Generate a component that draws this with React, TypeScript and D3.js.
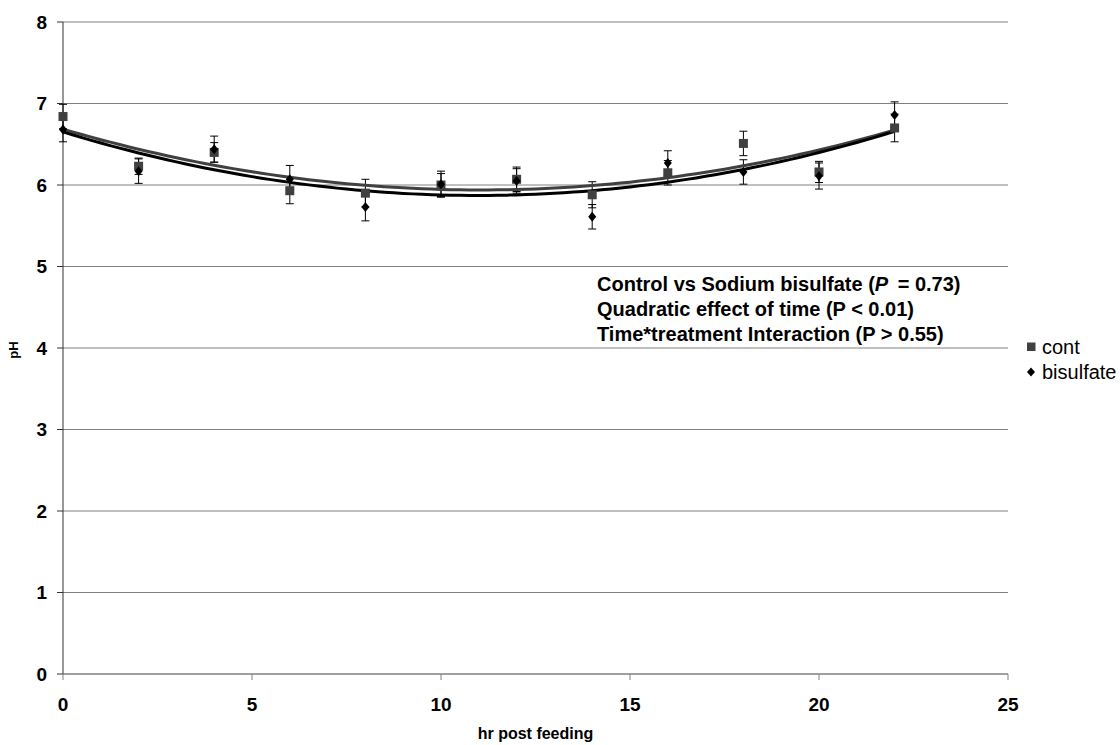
import React from "react";
import * as d3 from "d3";

const hours = [0, 2, 4, 6, 8, 10, 12, 14, 16, 18, 20, 22];
const contValues = [6.84, 6.23, 6.40, 5.93, 5.90, 6.00, 6.07, 5.88, 6.15, 6.51, 6.16, 6.70];
const contErr = [0.15, 0.10, 0.12, 0.16, 0.17, 0.14, 0.15, 0.16, 0.15, 0.15, 0.13, 0.17];
const bisValues = [6.68, 6.17, 6.44, 6.07, 5.73, 6.01, 6.05, 5.61, 6.27, 6.16, 6.11, 6.86];
const bisErr = [0.15, 0.15, 0.16, 0.17, 0.17, 0.16, 0.15, 0.15, 0.15, 0.15, 0.16, 0.16];
const xTicks = [0, 5, 10, 15, 20, 25];
const yTicks = [0, 1, 2, 3, 4, 5, 6, 7, 8];
const annotationLines = [
  "Quadratic effect of time (P < 0.01)",
  "Time*treatment Interaction (P > 0.55)",
];
const seriesNames = ["cont", "bisulfate"];

function quadFit(xs: number[], ys: number[]) {
  const n = xs.length;
  let s1 = 0, s2 = 0, s3 = 0, s4 = 0, t0 = 0, t1 = 0, t2 = 0;
  for (let i = 0; i < n; i++) {
    const x = xs[i], y = ys[i];
    s1 += x; s2 += x * x; s3 += x ** 3; s4 += x ** 4;
    t0 += y; t1 += x * y; t2 += x * x * y;
  }
  const M = [
    [n, s1, s2, t0],
    [s1, s2, s3, t1],
    [s2, s3, s4, t2],
  ];
  for (let i = 0; i < 3; i++) {
    for (let k = i + 1; k < 3; k++) {
      const f = M[k][i] / M[i][i];
      for (let j = i; j < 4; j++) M[k][j] -= f * M[i][j];
    }
  }
  const c = M[2][3] / M[2][2];
  const b = (M[1][3] - M[1][2] * c) / M[1][1];
  const a = (M[0][3] - M[0][1] * b - M[0][2] * c) / M[0][0];
  return (x: number) => a + b * x + c * x * x;
}

export default function App() {
  const W = 1120, H = 745;
  const x = d3.scaleLinear().domain([0, 25]).range([63, 1008]);
  const y = d3.scaleLinear().domain([0, 8]).range([674, 22]);

  const fitC = quadFit(hours, contValues);
  const fitB = quadFit(hours, bisValues);
  const samples = d3.range(0, 22.001, 0.25);
  const curveC = d3.line<number>().x((d) => x(d)).y((d) => y(fitC(d)))(samples) || "";
  const curveB = d3.line<number>().x((d) => x(d)).y((d) => y(fitB(d)))(samples) || "";

  const font = "Arial, 'Liberation Sans', sans-serif";

  const errBars = (vals: number[], errs: number[], key: string) =>
    hours.map((h, i) => {
      const cx = x(h);
      const top = y(vals[i] + errs[i]);
      const bot = y(vals[i] - errs[i]);
      return (
        <g key={key + i} stroke="#000" strokeWidth={1}>
          <line x1={cx} x2={cx} y1={top} y2={bot} />
          <line x1={cx - 4} x2={cx + 4} y1={top} y2={top} />
          <line x1={cx - 4} x2={cx + 4} y1={bot} y2={bot} />
        </g>
      );
    });

  return (
    <svg width={W} height={H} style={{ position: "absolute", left: 0, top: 0, background: "#fff" }}>
      <rect x={0} y={0} width={W} height={H} fill="#fff" />
      {yTicks.map((t) => (
        <line key={"g" + t} x1={x(0)} x2={x(25)} y1={y(t)} y2={y(t)} stroke="#808080" strokeWidth={1} />
      ))}
      <line x1={x(0)} x2={x(0)} y1={y(8)} y2={y(0)} stroke="#333" strokeWidth={1} />
      {yTicks.map((t) => (
        <g key={"yt" + t}>
          <line x1={x(0) - 6} x2={x(0)} y1={y(t)} y2={y(t)} stroke="#333" />
          <text x={47} y={y(t)} dy="0.35em" textAnchor="end" fontFamily={font} fontWeight="bold" fontSize={19} fill="#000">
            {t}
          </text>
        </g>
      ))}
      <line x1={x(0)} x2={x(25)} y1={y(0)} y2={y(0)} stroke="#808080" />
      {xTicks.map((t) => (
        <g key={"xt" + t}>
          <line x1={x(t)} x2={x(t)} y1={y(0)} y2={y(0) + 6} stroke="#808080" />
          <text x={x(t)} y={710.5} textAnchor="middle" fontFamily={font} fontWeight="bold" fontSize={19} fill="#000">
            {t}
          </text>
        </g>
      ))}
      <text x={535.5} y={739} textAnchor="middle" fontFamily={font} fontWeight="bold" fontSize={16} fill="#000">
        hr post feeding
      </text>
      <text transform={`translate(17.5,350) rotate(-90)`} textAnchor="middle" fontFamily={font} fontWeight="bold" fontSize={13} fill="#000">
        pH
      </text>

      {errBars(contValues, contErr, "ec")}
      {errBars(bisValues, bisErr, "eb")}

      <path d={curveC} fill="none" stroke="#404040" strokeWidth={3} />
      <path d={curveB} fill="none" stroke="#000" strokeWidth={3} />

      {hours.map((h, i) => (
        <rect key={"c" + i} x={x(h) - 4.5} y={y(contValues[i]) - 4.5} width={9} height={9} fill="#404040" />
      ))}
      {hours.map((h, i) => {
        const cx = x(h), cy = y(bisValues[i]);
        return <path key={"b" + i} d={`M${cx},${cy - 5}L${cx + 4},${cy}L${cx},${cy + 5}L${cx - 4},${cy}Z`} fill="#000" />;
      })}

      <text x={597} y={291} fontFamily={font} fontWeight="bold" fontSize={20} fill="#000">
        Control vs Sodium bisulfate (<tspan fontStyle="italic">P</tspan>
        <tspan dx={4}> = 0.73)</tspan>
      </text>
      {annotationLines.map((s, i) => (
        <text key={"a" + i} x={597} y={316 + i * 25} fontFamily={font} fontWeight="bold" fontSize={20} fill="#000">
          {s}
        </text>
      ))}

      <rect x={1027} y={342.5} width={8.5} height={8.5} fill="#404040" />
      <text x={1042} y={354} fontFamily={font} fontSize={20} fill="#000">{seriesNames[0]}</text>
      <path d="M1031,367.5L1035,372L1031,376.5L1027,372Z" fill="#000" />
      <text x={1042} y={379} fontFamily={font} fontSize={20} fill="#000">{seriesNames[1]}</text>
    </svg>
  );
}
